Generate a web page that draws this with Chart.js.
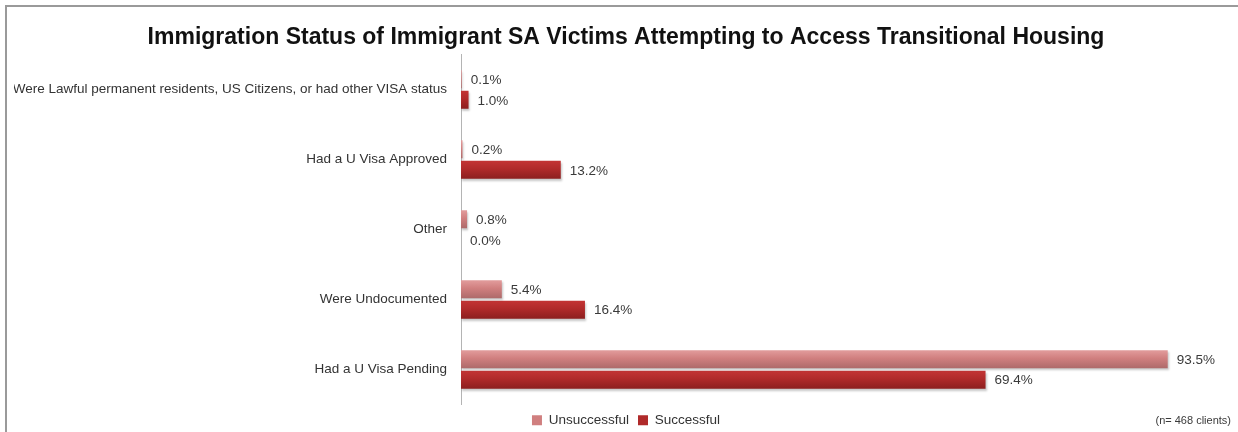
<!DOCTYPE html>
<html>
<head>
<meta charset="utf-8">
<script src="https://cdn.jsdelivr.net/npm/chart.js@4/dist/chart.umd.min.js"></script>
<style>
  html, body { margin: 0; padding: 0; background: #fff; overflow: hidden; }
  #frame {
    position: absolute; left: 5px; top: 5px;
    width: 1240px; height: 430px;
    border-left: 2px solid #9a9a9a; border-top: 2px solid #9a9a9a;
  }
  #wrap { position: absolute; left: 0; top: 0; width: 1238px; height: 432px; }
</style>
</head>
<body>
<div id="frame"></div>
<div id="wrap"><canvas id="statusChart" width="1238" height="432"></canvas></div>
<script>
// Immigration status categories, top to bottom
const categories = [
    'Were Lawful permanent residents, US Citizens, or had other VISA status',
    'Had a U Visa Approved',
    'Other',
    'Were Undocumented',
    'Had a U Visa Pending'
];
const unsuccessful = [0.1, 0.2, 0.8, 5.4, 93.5];
const successful = [1.0, 13.2, 0.0, 16.4, 69.4];
const seriesNames = ['Unsuccessful', 'Successful'];
const sampleNote = '(n= 468 clients)';

const textFont = 'Liberation Sans';
const catPct = 0.585;
const barPct = 0.88;

// top / middle / bottom shades for each series
const shades = [
    ['#e29c9c', '#d07f7f', '#ad6a6a'],
    ['#c33434', '#b02a2a', '#8c1f1f']
];

// vertical gradient across a single bar
function barFill(context) {
    const chart = context.chart;
    const yScale = chart.scales.y;
    if (!yScale || context.dataIndex === undefined) return shades[context.datasetIndex][1];
    const band = yScale.height / categories.length;
    const slot = band * catPct / 2;
    const thick = slot * barPct;
    const center = yScale.getPixelForValue(context.dataIndex) + (context.datasetIndex === 0 ? -slot / 2 : slot / 2);
    const g = chart.ctx.createLinearGradient(0, center - thick / 2, 0, center + thick / 2);
    const s = shades[context.datasetIndex];
    g.addColorStop(0, s[0]);
    g.addColorStop(0.45, s[1]);
    g.addColorStop(1, s[2]);
    return g;
}

// soft drop shadow under the bars
const barShadow = {
    id: 'barShadow',
    beforeDatasetsDraw(chart) {
        const ctx = chart.ctx;
        ctx.save();
        ctx.shadowColor = 'rgba(0,0,0,0.22)';
        ctx.shadowBlur = 2;
        ctx.shadowOffsetX = 1;
        ctx.shadowOffsetY = 2;
    },
    afterDatasetsDraw(chart) {
        chart.ctx.restore();
    }
};

// Percent labels to the right of each bar
const valueLabels = {
    id: 'valueLabels',
    afterDatasetsDraw(chart) {
        const ctx = chart.ctx;
        ctx.save();
        ctx.font = '13.5px "' + textFont + '"';
        ctx.fillStyle = '#3a3a3a';
        ctx.textAlign = 'left';
        ctx.textBaseline = 'middle';
        chart.data.datasets.forEach((ds, i) => {
            chart.getDatasetMeta(i).data.forEach((bar, j) => {
                ctx.fillText(ds.data[j].toFixed(1) + '%', bar.x + 9, bar.y + 1);
            });
        });
        ctx.restore();
    }
};

// Sample size note in the bottom right corner
const footNote = {
    id: 'footNote',
    afterDraw(chart) {
        const ctx = chart.ctx;
        ctx.save();
        ctx.font = '11px "' + textFont + '"';
        ctx.fillStyle = '#3a3a3a';
        ctx.textAlign = 'right';
        ctx.textBaseline = 'middle';
        ctx.fillText(sampleNote, 1231, 421);
        ctx.restore();
    }
};

const ctx = document.getElementById('statusChart').getContext('2d');
const statusChart = new Chart(ctx, {
    type: 'bar',
    data: {
        labels: categories,
        datasets: [{
            label: seriesNames[0],
            data: unsuccessful,
            backgroundColor: barFill,
            barPercentage: barPct,
            categoryPercentage: catPct
        }, {
            label: seriesNames[1],
            data: successful,
            backgroundColor: barFill,
            barPercentage: barPct,
            categoryPercentage: catPct
        }]
    },
    options: {
        indexAxis: 'y',
        responsive: false,
        animation: false,
        layout: { padding: { left: 14, right: 0, top: 0, bottom: -5 } },
        scales: {
            x: {
                display: false,
                min: 0,
                max: 102.8
            },
            y: {
                grid: { display: false, drawTicks: false },
                border: { display: true, color: '#b4b4b4', width: 1 },
                ticks: {
                    padding: 14,
                    color: '#333',
                    font: { family: textFont, size: 13.5 }
                },
                afterFit(scale) { scale.width = 447; }
            }
        },
        plugins: {
            title: {
                display: true,
                text: 'Immigration Status of Immigrant SA Victims Attempting to Access Transitional Housing',
                color: '#111',
                font: { family: textFont, size: 23, weight: 'bold', lineHeight: 1.2 },
                padding: { top: 24, bottom: 3 }
            },
            legend: {
                position: 'bottom',
                labels: {
                    boxWidth: 10,
                    boxHeight: 10,
                    padding: 9,
                    color: '#333',
                    font: { family: textFont, size: 13.5 },
                    generateLabels(chart) {
                        return seriesNames.map((name, i) => ({
                            text: name,
                            fillStyle: shades[i][1],
                            strokeStyle: shades[i][1],
                            lineWidth: 0,
                            fontColor: '#333',
                            datasetIndex: i,
                            hidden: false
                        }));
                    }
                }
            },
            tooltip: { enabled: false }
        }
    },
    plugins: [barShadow, valueLabels, footNote]
});
</script>
</body>
</html>
